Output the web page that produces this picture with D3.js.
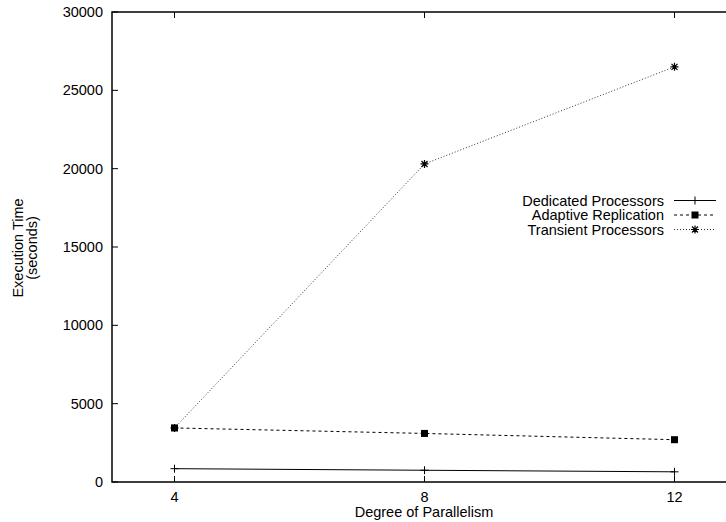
<!DOCTYPE html>
<html>
<head>
<meta charset="utf-8">
<script src="https://cdn.jsdelivr.net/npm/d3@7"></script>
<style>
  body { margin: 0; background: #fff; }
  svg { font-family: "Liberation Sans", Arial, sans-serif; }
  text { font-size: 14.5px; fill: #000; }
</style>
</head>
<body>
<svg width="726" height="522"></svg>
<script>
// data
const degrees = [4, 8, 12]
const dedicated = [850, 750, 650]
const adaptive = [3450, 3100, 2700]
const transient = [3450, 20300, 26500]
const yTicks = [0, 5000, 10000, 15000, 20000, 25000, 30000]
const seriesNames = ['Dedicated Processors', 'Adaptive Replication', 'Transient Processors']

const svg = d3.select('svg')
const plotLeft = 112, plotTop = 12, plotBottom = 482, plotRight = 737

const x = d3.scaleLinear().domain([3, 13]).range([plotLeft, plotRight])
const y = d3.scaleLinear().domain([0, 30000]).range([plotBottom, plotTop])

const series = [
    { name: seriesNames[0], values: dedicated, dash: null, stroke: '#000', marker: 'plus' },
    { name: seriesNames[1], values: adaptive, dash: '3,3', stroke: '#000', marker: 'square' },
    { name: seriesNames[2], values: transient, dash: '1,2', stroke: '#333', marker: 'star' }
]

// frame
svg.append('rect')
    .attr('x', plotLeft).attr('y', plotTop)
    .attr('width', plotRight - plotLeft).attr('height', plotBottom - plotTop)
    .style('fill', 'none').style('stroke', '#000').style('stroke-width', 1.5)

// y ticks (inward)
yTicks.forEach(function (t) {
    svg.append('line')
        .attr('x1', plotLeft).attr('x2', plotLeft + 6)
        .attr('y1', y(t)).attr('y2', y(t))
        .style('stroke', '#000')
    svg.append('text')
        .attr('x', plotLeft - 9).attr('y', y(t) + 5)
        .attr('text-anchor', 'end')
        .text(t)
})

// x ticks
degrees.forEach(function (d) {
    svg.append('line')
        .attr('x1', x(d)).attr('x2', x(d))
        .attr('y1', plotBottom).attr('y2', plotBottom - 6)
        .style('stroke', '#000')
    svg.append('line')
        .attr('x1', x(d)).attr('x2', x(d))
        .attr('y1', plotTop).attr('y2', plotTop + 6)
        .style('stroke', '#000')
    svg.append('text')
        .attr('x', x(d)).attr('y', plotBottom + 20)
        .attr('text-anchor', 'middle')
        .text(d)
})

svg.append('text')
    .attr('x', 424).attr('y', 517)
    .attr('text-anchor', 'middle')
    .text('Degree of Parallelism')

const yl = svg.append('text')
    .attr('transform', 'translate(22.5,248) rotate(-90)')
    .attr('text-anchor', 'middle')
yl.append('tspan').attr('x', 0).attr('dy', 0).text('Execution Time')
yl.append('tspan').attr('x', 0).attr('dy', 14).text('(seconds)')

function drawMarker(g, kind, cx, cy) {
    if (kind === 'plus') {
        g.append('path')
            .attr('d', `M${cx - 4},${cy}H${cx + 4}M${cx},${cy - 4}V${cy + 4}`)
            .style('stroke', '#000').style('stroke-width', 1)
    } else if (kind === 'square') {
        g.append('rect')
            .attr('x', cx - 3.5).attr('y', cy - 3.5)
            .attr('width', 7).attr('height', 7)
            .style('fill', '#000')
    } else {
        g.append('path')
            .attr('d', `M${cx - 4},${cy}H${cx + 4}M${cx},${cy - 4}V${cy + 4}M${cx - 3},${cy - 3}L${cx + 3},${cy + 3}M${cx - 3},${cy + 3}L${cx + 3},${cy - 3}`)
            .style('stroke', '#000').style('stroke-width', 1.2)
    }
}

const line = d3.line().x(d => x(d[0])).y(d => y(d[1]))

series.forEach(function (s, i) {
    const pts = degrees.map((d, j) => [d, s.values[j]])
    svg.append('path')
        .attr('d', line(pts))
        .style('fill', 'none')
        .style('stroke', s.stroke)
        .style('stroke-width', 1)
        .style('stroke-dasharray', s.dash)
    pts.forEach(p => drawMarker(svg, s.marker, x(p[0]), y(p[1])))

    // legend
    const ly = 200.5 + i * 14.5
    svg.append('text')
        .attr('x', 664).attr('y', ly + 5)
        .attr('text-anchor', 'end')
        .text(s.name)
    svg.append('line')
        .attr('x1', 674).attr('x2', 716)
        .attr('y1', ly).attr('y2', ly)
        .style('stroke', s.stroke)
        .style('stroke-dasharray', s.dash)
    drawMarker(svg, s.marker, 695, ly)
})
</script>
</body>
</html>
